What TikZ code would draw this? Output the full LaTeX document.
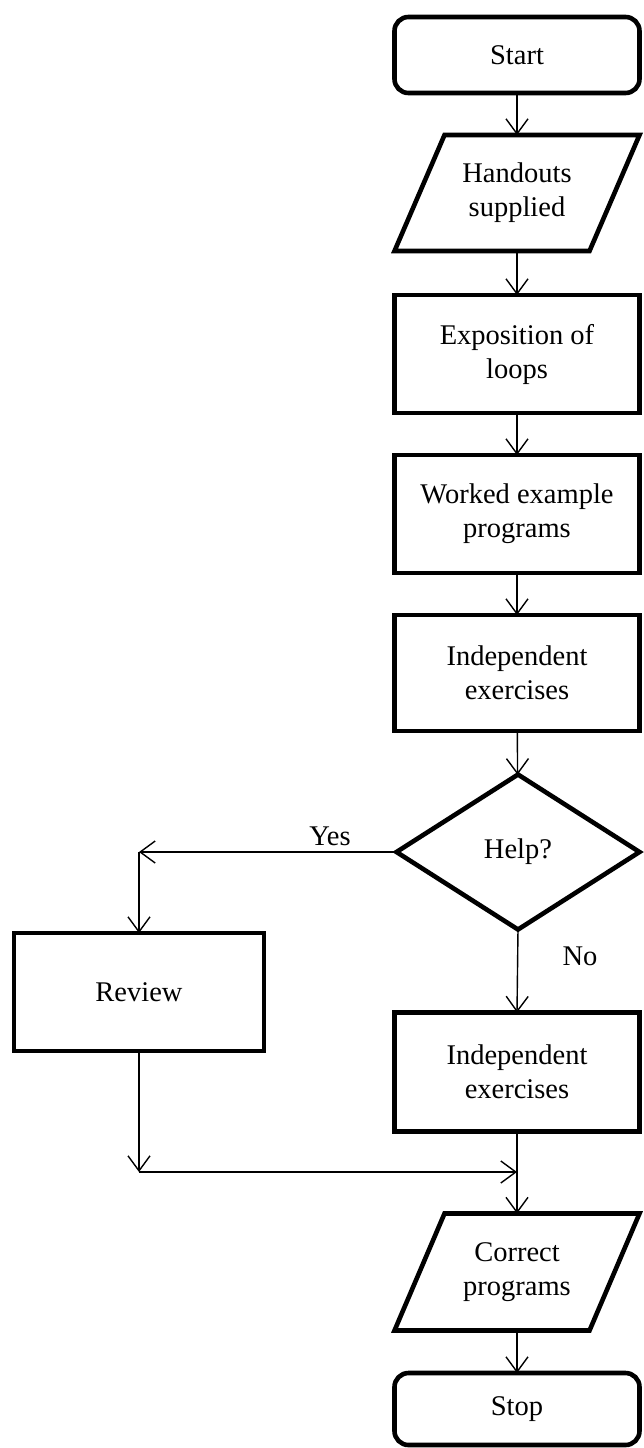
\documentclass[tikz,border=0pt]{standalone}
\usepackage{fontspec}
\setmainfont{Liberation Serif}
\usetikzlibrary{shapes.geometric,arrows.meta,calc}
\begin{document}
\begin{tikzpicture}[x=1pt,y=-1pt,
  txt/.style={font=\fontsize{28.5}{34}\selectfont, align=center, inner sep=0pt, outer sep=0pt},
  heavy/.style={line width=4.6pt},
  procbox/.style={txt, heavy, draw, rectangle, minimum width=245pt},
  termbox/.style={procbox, rounded corners=14pt},
  iobox/.style={txt, rectangle, minimum width=245pt},
  decbox/.style={txt, heavy, draw, diamond, minimum width=243pt, minimum height=155pt},
  iopath/.style={heavy, line join=miter},
  conn/.style={line width=1.4pt, -{Straight Barb[length=15pt, width=22pt, line width=1.4pt]}},
  lbl/.style={font=\fontsize{28.5}{34}\selectfont, inner sep=0pt}
]
\useasboundingbox (0,0) rectangle (643,1448);

% main column
\node[termbox, minimum height=76pt]  (start) at (517,55)   {Start};
\node[iobox,   minimum height=116pt] (hand)  at (517,193)  {Handouts\\supplied};
\node[procbox, minimum height=118pt] (expo)  at (517,354)  {Exposition of\\loops};
\node[procbox, minimum height=118pt] (work)  at (517,514)  {Worked example\\programs};
\node[procbox, minimum height=116pt] (ind1)  at (517,673)  {Independent\\exercises};
\node[decbox]                        (help)  at (518,852)  {Help?};
\node[procbox, minimum width=250pt, minimum height=118pt] (review) at (139,992) {Review};
\node[procbox, minimum height=119pt] (ind2)  at (517,1072) {Independent\\exercises};
\node[iobox,   minimum height=117pt] (corr)  at (517,1272) {Correct\\programs};
\node[termbox, minimum height=72pt]  (stop)  at (517,1409) {Stop};

% slanted input/output outlines
\draw[iopath] ($(hand.north west)+(50,0)$) -- (hand.north east)
  -- ($(hand.south east)+(-50,0)$) -- (hand.south west) -- cycle;
\draw[iopath] ($(corr.north west)+(50,0)$) -- (corr.north east)
  -- ($(corr.south east)+(-50,0)$) -- (corr.south west) -- cycle;

% straight-down connectors
\draw[conn] (start) -- (hand);
\draw[conn] (hand) -- (expo);
\draw[conn] (expo) -- (work);
\draw[conn] (work) -- (ind1);
\draw[conn] (ind1) -- (help);
\draw[conn] (help.south) -- (ind2.north);
\draw[conn] (ind2) -- (corr);
\draw[conn] (corr) -- (stop);

% "Yes" branch to Review and back into the main column
\coordinate (yescorner) at (139,852);
\coordinate (mergecorner) at (139,1172);
\coordinate (merge) at (517,1172);
\draw[conn] (help.west) -- (yescorner);
\draw[conn] (yescorner) -- (review.north);
\draw[conn] (review.south) -- (mergecorner);
\draw[conn] (mergecorner) -- (merge);

% branch labels
\node[lbl] (yes) at (330,836) {Yes};
\node[lbl] (no)  at (580,956) {No};
\end{tikzpicture}
\end{document}
